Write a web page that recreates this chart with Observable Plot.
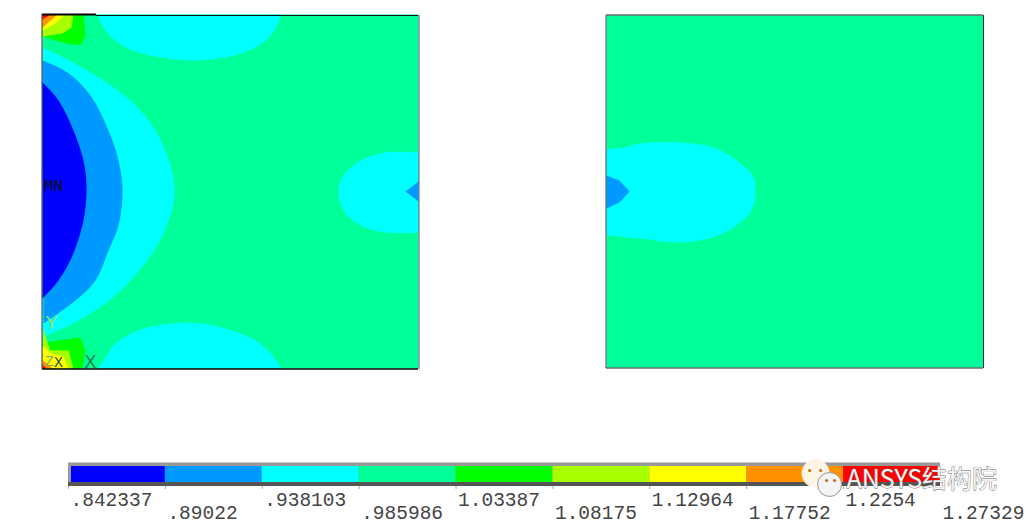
<!DOCTYPE html>
<html><head><meta charset="utf-8">
<script src="https://cdn.jsdelivr.net/npm/d3@7"></script>
<script src="https://cdn.jsdelivr.net/npm/@observablehq/plot@0.6"></script>
<style>html,body{margin:0;padding:0;background:#fff;overflow:hidden}svg{display:block}</style>
</head><body><div id="field"></div><div id="legend"></div>
<script>
// Contour levels and colours
const levels = [0.842337,0.89022,0.938103,0.985986,1.03387,1.08175,1.12964,1.17752,1.2254,1.27329];
const labels = [".842337",".89022",".938103",".985986","1.03387","1.08175","1.12964","1.17752","1.2254","1.27329"];
const colors = ["#0000ff","#0099ff","#00ffff","#00ff99","#00ff00","#a6ff00","#ffff00","#ff9100","#ff0000"];
const rows = [0,1,0,1,0,1,0,1,0,1];

// Left plate: contour bands as [band index, outline]
const leftPlate = [[42,14],[418,14],[418,368],[42,368]];
const leftTopBlob = [[97,14],[105,30],[125,47],[155,56],[190,60],[225,57],[255,47],[272,33],[281,14]];
const leftBottomBlob = [[97,368],[103,360],[115,343],[140,329],[190,322],[225,328],[255,340],[272,355],[281,368]];
const leftNotch = [[418,152],[385,152],[360,160],[343,175],[338,190],[343,210],[360,225],[385,232],[418,232]];
const leftWedge = [[418,181],[405,191],[418,201]];
const holeCyan = [[42,47],[65,58],[95,75],[130,100],[155,130],[170,165],[174,190],[170,215],[155,248],[132,278],[110,299],[75,322],[47,335],[42,340]];
const holeMid = [[42,60],[67,72],[90,95],[108,130],[118,160],[122,190],[118,225],[108,250],[95,280],[75,300],[43,323]];
const holeDeep = [[42,82],[58,100],[75,135],[84,165],[86,190],[83,220],[72,255],[58,280],[42,298]];
const topGreen = [[42,14],[83,14],[85,35],[80,45],[65,43],[42,36]];
const topLime = [[42,14],[73,14],[71,27],[62,33],[42,36]];
const topYellow = [[42,14],[65,14],[55,23],[42,30]];
const topOrange = [[42,14],[57,14],[42,27]];
const topRed = [[42,14],[50,14],[42,19]];
const botGreen = [[42,342],[80,337],[85,350],[82,368],[42,368]];
const botLime = [[43,328],[47,342],[50,350],[68,350],[73,368],[42,368]];
const botYellow = [[42,345],[50,353],[63,356],[68,368],[42,368]];
const botOrange = [[42,360],[48,364],[52,368],[42,368]];
const botRed = [[42,364],[46,368],[42,368]];

// Right plate
const rightPlate = [[606,15],[983,15],[983,367],[606,367]];
const rightBlob = [[606,148],[619,148],[639,143],[679,142],[713,147],[739,162],[753,177],[755,192],[751,210],[736,225],[713,237],[679,242],[639,238],[606,235]];
const rightWedge = [[606,175],[619,180],[629,191],[619,202],[606,208]];

// Painting order: bands drawn later sit on top
const regions = [
  [3,leftPlate,0],[2,leftTopBlob,1],[2,leftBottomBlob,1],[2,leftNotch,1],[1,leftWedge,0],
  [2,holeCyan,1],[1,holeMid,1],[0,holeDeep,1],
  [4,topGreen,0],[5,topLime,0],[6,topYellow,0],[7,topOrange,0],[8,topRed,0],
  [4,botGreen,0],[5,botLime,0],[6,botYellow,0],[7,botOrange,0],[8,botRed,0],
  [3,rightPlate,0],[2,rightBlob,1],[1,rightWedge,0]
];
const outlinePoints = regions.flatMap(([band,pts,smooth],id)=>pts.map(([x,y])=>({x,y,id,band,smooth})));

// Plate annotations
const plateNotes = [
  {t:"MN",x:53,y:185,c:"#111",s:16},
  {t:"Y",x:51,y:322,c:"#8fe070",s:20},
  {t:"X",x:90,y:361,c:"#1a8a50",s:20},
  {t:"X",x:58,y:362,c:"#30503a",s:15},
  {t:"Z",x:49,y:361,c:"#80b070",s:15}
];
const plateEdges = [
  {x1:42,x2:96,y:14,w:2,c:"#000"},{x1:96,x2:418,y:15,w:1,c:"#111"},
  {x1:42,x2:418,y:368.5,w:1.5,c:"#000"},
  {x1:606,x2:983,y:14.5,w:1,c:"#222"},{x1:606,x2:983,y:367.5,w:1,c:"#222"}
];
const plateSides = [
  {x:41.5,y1:14,y2:369,c:"#333"},{x:418.5,y1:15,y2:369,c:"#557"},
  {x:605.5,y1:15,y2:368,c:"#445"},{x:983,y1:15,y2:368,c:"#333"}
];

document.getElementById("field").append(Plot.plot({
  width:1031,height:440,margin:0,
  x:{domain:[0,1031],range:[0,1031],axis:null},
  y:{domain:[0,440],range:[0,440],axis:null},
  color:{type:"ordinal",domain:d3.range(colors.length),range:colors},
  marks:[
    // keep painting order by drawing each region as its own mark
    ...regions.map((r,id)=>Plot.line(outlinePoints.filter(d=>d.id===id),{x:"x",y:"y",fill:"band",stroke:null,curve:r[2]?"catmull-rom":"linear-closed"})),
    Plot.ruleY(plateEdges,{x1:"x1",x2:"x2",y:"y",stroke:"c",strokeWidth:"w"}),
    Plot.ruleX(plateSides,{x:"x",y1:"y1",y2:"y2",stroke:"c",strokeWidth:1}),
    ...plateNotes.map(n=>Plot.text([n],{x:"x",y:"y",text:"t",fill:n.c,fontSize:n.s,fontFamily:"Liberation Mono"}))
  ]
}));

// Colour bar
const cells = colors.map((c,i)=>({a:levels[i],b:levels[i+1],c}));
const tickRows = levels.map((v,i)=>({v,label:labels[i],row:rows[i]}));
const brandAt = levels[8];
document.getElementById("legend").append(Plot.plot({
  width:1031,height:85,margin:0,
  x:{domain:[levels[0],levels[9]],range:[68,940],axis:null},
  y:{domain:[0,85],range:[0,85],axis:null},
  marks:[
    Plot.ruleX(levels.slice(0,9),{x:d=>d,y1:44,y2:49,stroke:"#aaa"}),
    Plot.rect([0],{x1:levels[0],x2:levels[9],y1:22.5,y2:46,fill:"#999"}),
    Plot.rect([0],{x1:levels[0],x2:levels[9],y1:42,y2:46,fill:"#555"}),
    Plot.rect(cells.slice(0,1),{x1:"a",x2:"b",y1:26,y2:42,fill:"c",insetLeft:3}),
    Plot.rect(cells.slice(1),{x1:"a",x2:"b",y1:26,y2:42,fill:"c"}),
    Plot.text(tickRows,{x:"v",y:d=>d.row?72.5:59.5,text:"label",dx:2,textAnchor:"start",fill:"#444",fontSize:19.5,fontFamily:"Liberation Mono"}),
    // Watermark, placed relative to the last-but-one level
    Plot.dot([brandAt],{x:d=>d,y:33,r:14,dx:-28,fill:"#fdf4e3",stroke:null}),
    Plot.dot([brandAt],{x:d=>d,y:44,r:12,dx:-14,fill:"#f2f4f4",stroke:"#999",strokeWidth:1}),
    Plot.dot([brandAt],{x:d=>d,y:30,r:1.6,dx:-34,fill:"#b9722a"}),
    Plot.dot([brandAt],{x:d=>d,y:30,r:1.6,dx:-23,fill:"#b9722a"}),
    Plot.dot([brandAt],{x:d=>d,y:40,r:1.6,dx:-17,fill:"#b9722a"}),
    Plot.dot([brandAt],{x:d=>d,y:40,r:1.6,dx:-9,fill:"#b9722a"}),
    Plot.text(["ANSYS结构院"],{x:brandAt,y:39,text:d=>d,dx:3,textAnchor:"start",fill:"#f4f4f4",stroke:"#666",strokeWidth:0.8,fontSize:25,fontFamily:"Noto Sans CJK SC"})
  ]
}));
</script></body></html>
